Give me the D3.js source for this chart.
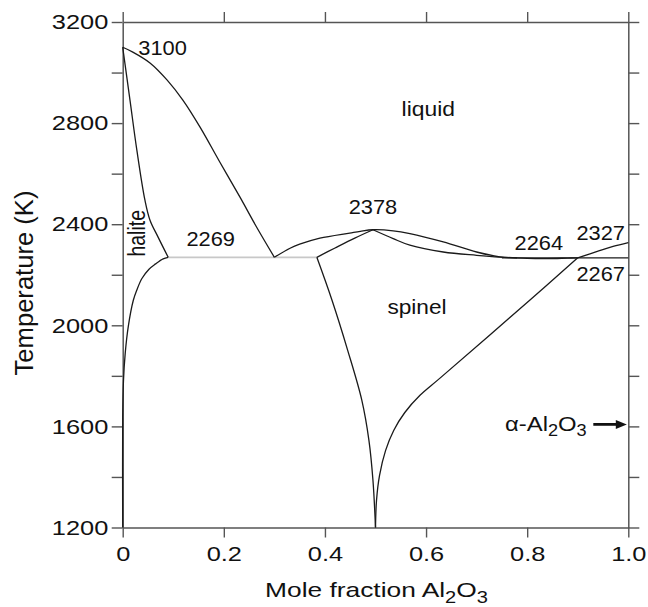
<!DOCTYPE html>
<html>
<head>
<meta charset="utf-8">
<script src="https://cdn.jsdelivr.net/npm/d3@7/dist/d3.min.js"></script>
<style>
  html, body { margin: 0; padding: 0; background: #fff; }
  svg { display: block; font-family: "Liberation Sans", Arial, Helvetica, sans-serif; }
</style>
</head>
<body>
<svg id="chart" width="648" height="607"></svg>
<script>
// ---- Axis ticks ----
const xTicks = [0, 0.2, 0.4, 0.6, 0.8, 1.0];
const xTickLabels = ["0", "0.2", "0.4", "0.6", "0.8", "1.0"];
const yTicks = [1200, 1400, 1600, 1800, 2000, 2200, 2400, 2600, 2800, 3000, 3200];
const yTickLabels = ["1200", "", "1600", "", "2000", "", "2400", "", "2800", "", "3200"];

// ---- Phase boundaries: [mole fraction Al2O3, temperature (K)] ----
// liquidus on the halite (MgO-rich) side, from the melting point to the eutectic
const liquidusHalite = [[0, 3100], [0.02, 3081], [0.054, 3038], [0.088, 2970], [0.119, 2891],
  [0.153, 2784], [0.192, 2646], [0.232, 2507], [0.265, 2388], [0.3, 2269]];
// halite solidus
const solidusHalite = [[0, 3100], [0.0144, 2891], [0.028, 2693], [0.044, 2495], [0.054, 2416],
  [0.07, 2349], [0.09, 2269]];
// halite solvus below the eutectic
const solvusHalite = [[0.09, 2269], [0.08, 2263], [0.065, 2243], [0.052, 2222], [0.038, 2185],
  [0.028, 2140], [0.021, 2099], [0.011, 1995], [0.005, 1890], [0.0015, 1780], [0, 1640], [0, 1200]];
// liquidus over the spinel field (congruent maximum at 2378 K, minimum at 2264 K)
const liquidusSpinel = [[0.3, 2269], [0.331, 2305], [0.35, 2321], [0.39, 2345], [0.449, 2365],
  [0.47, 2372], [0.495, 2378], [0.535, 2374], [0.568, 2363], [0.634, 2330], [0.7, 2290],
  [0.746, 2271], [0.8, 2265], [0.84, 2264], [0.88, 2266], [0.9, 2267]];
// liquidus on the corundum side
const liquidusCorundum = [[0.9, 2267], [0.943, 2295], [0.97, 2312], [1.0, 2327]];
// spinel solidus, both sides of the maximum
const solidusSpinelLeft = [[0.384, 2269], [0.42, 2306], [0.459, 2345], [0.495, 2378]];
const solidusSpinelRight = [[0.495, 2378], [0.535, 2343], [0.568, 2317], [0.634, 2290],
  [0.7, 2277], [0.746, 2270], [0.78, 2267]];
// spinel solvus lines meeting at the stoichiometric composition
const solvusSpinelLeft = [[0.384, 2269], [0.414, 2099], [0.445, 1901], [0.473, 1703],
  [0.487, 1545], [0.495, 1386], [0.5, 1200]];
const solvusSpinelRight = [[0.9, 2267], [0.805, 2099], [0.627, 1790], [0.588, 1723],
  [0.558, 1655], [0.536, 1584], [0.52, 1505], [0.508, 1406], [0.502, 1307], [0.5, 1200]];
// eutectic isotherms
const eutecticHalite = [[0.09, 2269], [0.384, 2269]];
const eutecticCorundum = [[0.75, 2267], [1.0, 2267]];

// ---- Labels ----
const fieldLabels = ["liquid", "spinel", "halite"];
const pointLabels = [3100, 2269, 2378, 2264, 2327, 2267];
const corundumArrowT = 1608;

// ---- Layout ----
const svg = d3.select("#chart");
const x = d3.scaleLinear().domain([0, 1]).range([122.7, 628.3]);
const y = d3.scaleLinear().domain([1200, 3200]).range([527.5, 22]);

const axisColor = "#555";
const textColor = "#111";
const fontSize = 21;

function styleAxis(g) {
  g.selectAll(".domain").attr("stroke", axisColor).attr("stroke-width", 1.5);
  g.selectAll(".tick line").attr("stroke", axisColor).attr("stroke-width", 1.4);
  g.selectAll("text").attr("fill", textColor).attr("font-size", fontSize)
    .attr("font-family", "'Liberation Sans', Arial, Helvetica, sans-serif");
}

// left axis
const gL = svg.append("g").attr("transform", `translate(${x(0)},0)`)
  .call(d3.axisLeft(y).tickValues(yTicks).tickSize(11).tickSizeOuter(0)
    .tickFormat((d, i) => yTickLabels[i]));
styleAxis(gL);
gL.selectAll("text").attr("x", -14.4 / 1.21).attr("transform", "scale(1.21,1)");

// right axis
const gR = svg.append("g").attr("transform", `translate(${x(1)},0)`)
  .call(d3.axisRight(y).tickValues(yTicks).tickSize(11).tickSizeOuter(0).tickFormat(""));
styleAxis(gR);

// top axis
const gT = svg.append("g").attr("transform", `translate(0,${y(3200)})`)
  .call(d3.axisTop(x).tickValues(xTicks).tickSize(10).tickSizeOuter(0).tickFormat(""));
styleAxis(gT);

// bottom axis
const gB = svg.append("g").attr("transform", `translate(0,${y(1200)})`)
  .call(d3.axisBottom(x).tickValues(xTicks).tickSize(10).tickSizeOuter(0)
    .tickFormat((d, i) => xTickLabels[i]));
styleAxis(gB);
gB.selectAll("text").attr("y", 19).attr("transform", "scale(1.21,1)");

// ---- Phase boundaries ----
const smooth = d3.line().x(d => x(d[0])).y(d => y(d[1])).curve(d3.curveCatmullRom.alpha(0.5));
const straight = d3.line().x(d => x(d[0])).y(d => y(d[1]));

const curves = svg.append("g").attr("fill", "none").attr("stroke", "#1a1a1a")
  .attr("stroke-width", 1.3).attr("stroke-linejoin", "round");

svg.insert("path", ":first-child").datum(eutecticHalite)
  .attr("d", straight).attr("fill", "none").attr("stroke", "#c8c8c8").attr("stroke-width", 1.8);

[liquidusHalite, solidusHalite, solvusHalite, liquidusSpinel, liquidusCorundum,
 solidusSpinelLeft, solidusSpinelRight, solvusSpinelLeft, solvusSpinelRight]
  .forEach(c => curves.append("path").datum(c).attr("d", smooth));
curves.append("path").datum(eutecticCorundum).attr("d", straight);

// ---- Text ----
function addText(px, py, str, opts = {}) {
  const t = svg.append("text")
    .attr("transform", `translate(${px},${py}) ${opts.rotate ? `rotate(${opts.rotate})` : ""} scale(${opts.sx || 1},${opts.sy || 1})`)
    .attr("font-size", opts.size || fontSize)
    .attr("fill", textColor)
    .attr("text-anchor", opts.anchor || "start");
  if (str !== null) t.text(str);
  return t;
}

// point labels
addText(x(0) + 15.6, y(pointLabels[0]) + 7.6, pointLabels[0], { sx: 1.04 });
addText(x(0.174), y(pointLabels[1]) - 11, pointLabels[1], { sx: 1.04, anchor: "middle" });
addText(x(0.495), y(pointLabels[2]) - 15.7, pointLabels[2], { sx: 1.04, anchor: "middle" });
addText(x(0.823), y(pointLabels[3]) - 8.3, pointLabels[3], { sx: 1.04, anchor: "middle" });
addText(x(1) - 3.3, y(pointLabels[4]) - 3, pointLabels[4], { sx: 1.04, anchor: "end" });
addText(x(1) - 3.3, y(pointLabels[5]) + 23.6, pointLabels[5], { sx: 1.04, anchor: "end" });

// phase field labels
addText(428.3, 115.5, fieldLabels[0], { sx: 1.09, anchor: "middle" });
addText(417, 314, fieldLabels[1], { sx: 1.08, anchor: "middle" });
addText(145, 233.3, fieldLabels[2], { rotate: -90, sy: 1.25, size: 19.5, anchor: "middle" });

// corundum label with arrow
const al = addText(505, y(corundumArrowT) + 7, null, { sx: 1.136 });
al.append("tspan").text("\u03b1-Al");
al.append("tspan").attr("font-size", 16).attr("dy", 4.5).text("2");
al.append("tspan").attr("dy", -4.5).text("O");
al.append("tspan").attr("font-size", 16).attr("dy", 4.5).text("3");

const ay = y(corundumArrowT);
const tipX = x(1) - 1.5;
svg.append("line").attr("x1", 593.3).attr("x2", tipX - 8).attr("y1", ay).attr("y2", ay)
  .attr("stroke", textColor).attr("stroke-width", 2.8);
svg.append("path")
  .attr("d", `M${tipX},${ay} L${tipX - 11},${ay - 4.5} L${tipX - 11},${ay + 4.5} Z`)
  .attr("fill", textColor);

// axis titles
addText(33.3, 283, "Temperature (K)", { rotate: -90, size: 25.6, anchor: "middle" });

const xt = addText(376.5, 596.7, null, { sx: 1.255, anchor: "middle" });
xt.append("tspan").text("Mole fraction Al");
xt.append("tspan").attr("font-size", 16).attr("dy", 6).text("2");
xt.append("tspan").attr("dy", -6).text("O");
xt.append("tspan").attr("font-size", 16).attr("dy", 6).text("3");
</script>
</body>
</html>
